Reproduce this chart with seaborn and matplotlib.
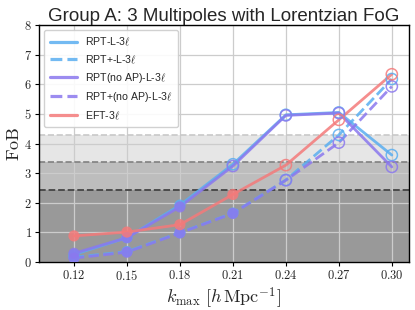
import numpy as np
import pandas as pd
import matplotlib
matplotlib.use("Agg")
import matplotlib.pyplot as plt
import seaborn as sns

kmax = [0.12, 0.15, 0.18, 0.21, 0.24, 0.27, 0.30]
rpt_l = [0.25, 0.82, 1.92, 3.30, 4.97, 5.05, 3.61]
rptp_l = [0.16, 0.35, 0.99, 1.65, 2.77, 4.29, 6.18]
rpt_noap = [0.29, 0.82, 1.86, 3.24, 4.95, 5.03, 3.21]
rptp_noap = [0.13, 0.33, 0.98, 1.64, 2.76, 4.03, 5.93]
eft = [0.88, 1.01, 1.26, 2.28, 3.27, 4.80, 6.34]

labels = ["RPT-L-3$\\ell$", "RPT+-L-3$\\ell$", "RPT(no AP)-L-3$\\ell$",
          "RPT+(no AP)-L-3$\\ell$", "EFT-3$\\ell$"]
thresholds = [2.42, 3.38, 4.28]

sns.set_style("whitegrid")
plt.rcParams["mathtext.fontset"] = "cm"
plt.rcParams["font.family"] = ["Liberation Sans", "DejaVu Sans"]

df = pd.DataFrame({"kmax": kmax * 5,
                   "FoB": rpt_l + rptp_l + rpt_noap + rptp_noap + eft,
                   "model": sum([[l] * len(kmax) for l in labels], [])})

colors = ["#5aaef0", "#5aaef0", "#8b78ee", "#8b78ee", "#f47a7a"]
styles = ["-", "--", "-", "--", "-"]

fig = plt.figure(figsize=(4.15, 3.1), dpi=100)
ax = fig.add_axes([0.094, 0.155, 0.891, 0.764])

ax.axhspan(0, thresholds[0], color="#999999", zorder=0, lw=0)
ax.axhspan(thresholds[0], thresholds[1], color="#bdbdbd", zorder=0, lw=0)
ax.axhspan(thresholds[1], thresholds[2], color="#e6e6e6", zorder=0, lw=0)
ax.axhline(thresholds[0], color="#444444", ls="--", lw=1.3, zorder=1)
ax.axhline(thresholds[1], color="#808080", ls="--", lw=1.2, zorder=1)
ax.axhline(thresholds[2], color="#c8c8c8", ls="--", lw=1.2, zorder=1)

for lab, c, s in zip(labels, colors, styles):
    sub = df[df["model"] == lab]
    sns.lineplot(data=sub, x="kmax", y="FoB", ax=ax, color=c, lw=2.0,
                 alpha=0.85, label=lab, zorder=3)
    ax.lines[-1].set_linestyle(s)
    low = sub[sub["FoB"] < thresholds[0]]
    high = sub[sub["FoB"] >= thresholds[0]]
    ax.scatter(low["kmax"], low["FoB"], s=65, color=c, alpha=0.85,
               edgecolor="none", zorder=4)
    ax.scatter(high["kmax"], high["FoB"], s=65, facecolor="none",
               edgecolor=c, lw=1.1, alpha=0.85, zorder=4)

ax.set_xlim(0.1002, 0.3096)
ax.set_ylim(0, 8)
ax.set_xticks(kmax)
ax.set_xticklabels([f"${k:.2f}$" for k in kmax], fontsize=9)
ax.set_yticks(range(9))
ax.set_yticklabels([f"${i}$" for i in range(9)], fontsize=9)
ax.tick_params(axis="both", length=3, color="black", direction="out",
               bottom=True, left=True, pad=2)
for sp in ax.spines.values():
    sp.set_color("black")
    sp.set_linewidth(1.0)
ax.grid(True, color="#cccccc", lw=0.9)
for gl in ax.get_xgridlines() + ax.get_ygridlines():
    gl.set_zorder(0.5)

ax.set_xlabel(r"$k_{\rm max}\ [h\,{\rm Mpc}^{-1}]$", fontsize=13, labelpad=2)
ax.set_ylabel(r"$\mathrm{FoB}$", fontsize=13, labelpad=1)
ax.set_title("Group A: 3 Multipoles with Lorentzian FoG", fontsize=13.5, pad=3)

leg = ax.legend(loc="upper left", fontsize=7.6, frameon=True, framealpha=0.9,
                handlelength=2.6, borderpad=0.5, labelspacing=0.5)
for h, s in zip(leg.get_lines(), styles):
    h.set_linestyle(s)
    h.set_linewidth(2.3)

fig.savefig("out.png", dpi=100)
